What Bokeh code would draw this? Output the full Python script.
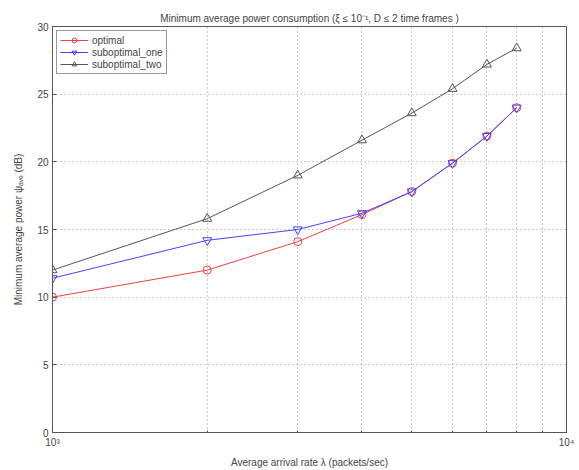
from bokeh.plotting import figure
from bokeh.embed import file_html
from bokeh.resources import INLINE
from bokeh.models import FixedTicker

# Data
arrival_rate = [1000, 2000, 3000, 4000, 5000, 6000, 7000, 8000]
optimal = [10.0, 12.0, 14.1, 16.1, 17.8, 19.9, 21.9, 24.0]
suboptimal_one = [11.4, 14.2, 15.0, 16.2, 17.8, 19.9, 21.9, 24.0]
suboptimal_two = [12.0, 15.8, 19.0, 21.6, 23.6, 25.4, 27.2, 28.4]
y_ticks = [0, 5, 10, 15, 20, 25, 30]
x_major = [1000, 10000]
x_major_labels = {1000: "10³", 10000: "10⁴"}
x_minor = [2000, 3000, 4000, 5000, 6000, 7000, 8000, 9000]

FONT = "Liberation Sans"

p = figure(width=579, height=470, x_axis_type="log", x_range=(1000, 10000), y_range=(0, 30),
           output_backend="svg", toolbar_location=None,
           min_border_left=52, min_border_right=13, min_border_top=26, min_border_bottom=37)

p.title.text = "Minimum average power consumption (ξ ≤ 10⁻¹, D ≤ 2 time frames )"
p.title.align = "center"
p.title.text_font = FONT
p.title.text_font_size = "10px"
p.title.text_font_style = "normal"
p.title.standoff = 6

# axes
p.xaxis.ticker = FixedTicker(ticks=x_major, minor_ticks=x_minor)
p.xaxis.major_label_overrides = x_major_labels
p.yaxis.ticker = FixedTicker(ticks=y_ticks)
p.xaxis.axis_label = "Average arrival rate λ (packets/sec)"
p.yaxis.axis_label = "Minimum average power ψₐᵥₑ (dB)"
for ax in (p.xaxis, p.yaxis):
    ax.axis_label_text_font = FONT
    ax.axis_label_text_font_size = "10px"
    ax.axis_label_text_font_style = "normal"
    ax.major_label_text_font = FONT
    ax.major_label_text_font_size = "10px"
    ax.major_tick_in = 4
    ax.major_tick_out = 0
    ax.minor_tick_in = 2
    ax.minor_tick_out = 0
    ax.axis_line_color = "#555555"
    ax.major_tick_line_color = "#555555"
    ax.minor_tick_line_color = "#555555"
    ax.major_label_standoff = 4
    ax.axis_label_standoff = 6
p.yaxis.minor_tick_line_color = None
p.yaxis.axis_label_standoff = 10

p.outline_line_color = "#555555"
p.outline_line_alpha = 1.0

p.xgrid.ticker = FixedTicker(ticks=x_major, minor_ticks=x_minor)
p.xgrid.grid_line_color = "#999999"
p.xgrid.grid_line_dash = "1 3"
p.xgrid.minor_grid_line_color = "#999999"
p.xgrid.minor_grid_line_dash = "1 3"
p.ygrid.grid_line_color = "#999999"
p.ygrid.grid_line_dash = "1 3"

red = "#f04040"
blue = "#4444ff"
gray = "#555555"

p.line(arrival_rate, optimal, line_color=red, line_width=1, legend_label="optimal")
p.scatter(arrival_rate, optimal, marker="circle", size=8, line_color=red, fill_color=None,
          legend_label="optimal")
p.line(arrival_rate, suboptimal_one, line_color=blue, line_width=1, legend_label="suboptimal_one")
p.scatter(arrival_rate, suboptimal_one, marker="inverted_triangle", size=9, line_color=blue,
          fill_color=None, legend_label="suboptimal_one")
p.line(arrival_rate, suboptimal_two, line_color=gray, line_width=1, legend_label="suboptimal_two")
p.scatter(arrival_rate, suboptimal_two, marker="triangle", size=9, line_color=gray,
          fill_color=None, legend_label="suboptimal_two")

lg = p.legend[0]
lg.location = "top_left"
lg.margin = 4
lg.padding = 3
lg.spacing = 0
lg.label_height = 12
lg.glyph_height = 12
lg.glyph_width = 28
lg.label_standoff = 4
lg.label_text_font = FONT
lg.label_text_font_size = "10px"
lg.border_line_color = "#333333"
lg.background_fill_alpha = 1.0

open("out.html", "w").write(file_html(p, INLINE))
